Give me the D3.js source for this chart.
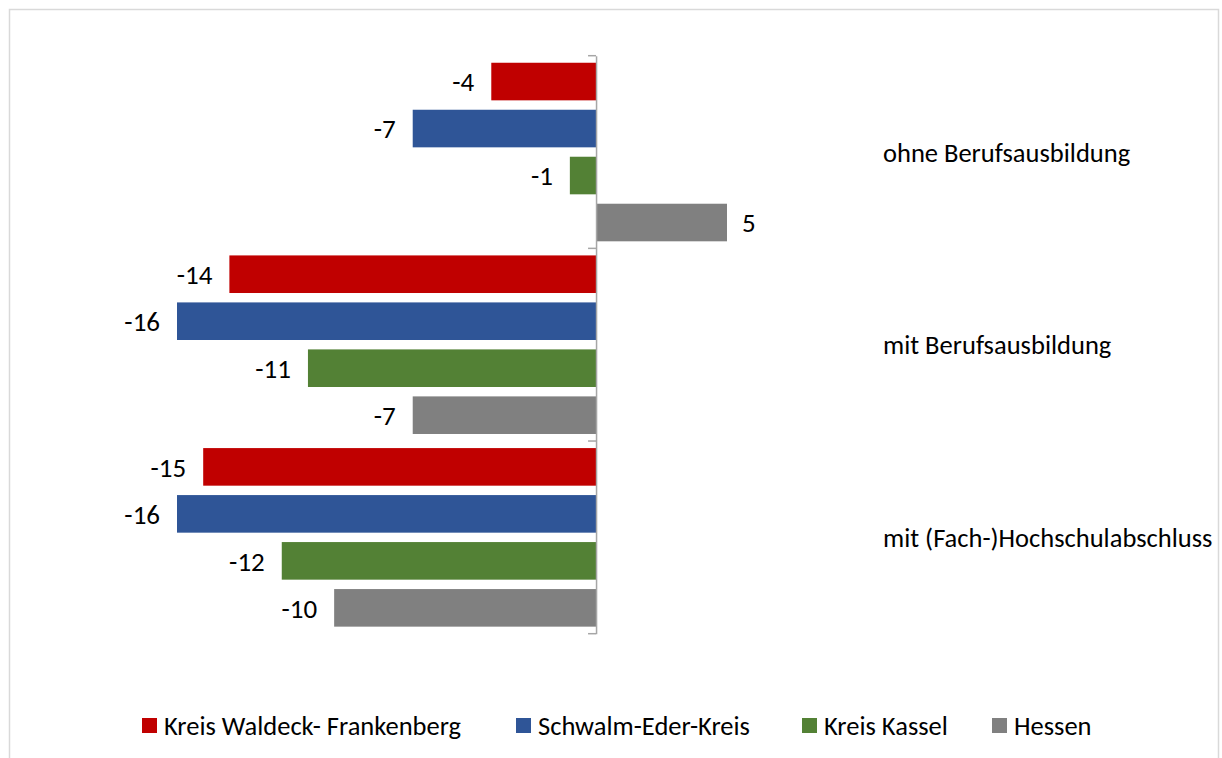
<!DOCTYPE html>
<html>
<head>
<meta charset="utf-8">
<script src="https://cdn.jsdelivr.net/npm/d3@7"></script>
<style>
  body { margin: 0; background: #fff; }
  text { font-family: Carlito, Calibri, Lato, sans-serif; fill: #000; }
</style>
</head>
<body>
<div id="main"></div>
<script>
// data
var categories = ["ohne Berufsausbildung", "mit Berufsausbildung", "mit (Fach-)Hochschulabschluss"];
var seriesNames = ["Kreis Waldeck- Frankenberg", "Schwalm-Eder-Kreis", "Kreis Kassel", "Hessen"];
var waldeck = [-4, -14, -15];
var schwalm = [-7, -16, -16];
var kassel = [-1, -11, -12];
var hessen = [5, -7, -10];
var seriesValues = [waldeck, schwalm, kassel, hessen];
var colors = ["#C00000", "#2F5597", "#538135", "#808080"];

var w = 1222,
	h = 758;

var svg = d3.select("#main")
	.append("svg")
	.attr("width", w)
	.attr("height", h);

// outer border
svg.append("rect")
	.attr("x", 9.5)
	.attr("y", 9.5)
	.attr("width", 1209)
	.attr("height", 760)
	.attr("fill", "#fff")
	.attr("stroke", "#d9d9d9")
	.attr("stroke-width", 1.5);

// scales
var x = d3.scaleLinear()
	.domain([-16, 5])
	.range([177, 727]);

var y0 = d3.scaleBand()
	.domain(categories)
	.range([55.7, 633.7]);

var y1 = d3.scaleBand()
	.domain(seriesNames)
	.range([0, y0.bandwidth()])
	.paddingInner(0.2)
	.paddingOuter(0.15);

// flatten for bars
var rows = [];
categories.forEach(function(c, i) {
	seriesNames.forEach(function(s, j) {
		rows.push({cat: c, series: s, value: seriesValues[j][i], color: colors[j]});
	});
});

var bars = svg.append("g");

bars.selectAll("rect")
	.data(rows)
	.enter()
	.append("rect")
	.attr("x", function(d) { return x(Math.min(0, d.value)); })
	.attr("y", function(d) { return y0(d.cat) + y1(d.series); })
	.attr("width", function(d) { return Math.abs(x(d.value) - x(0)); })
	.attr("height", y1.bandwidth())
	.attr("fill", function(d) { return d.color; });

// value labels
bars.selectAll("text")
	.data(rows)
	.enter()
	.append("text")
	.attr("x", function(d) { return d.value < 0 ? x(d.value) - 17 : x(d.value) + 15; })
	.attr("y", function(d) { return y0(d.cat) + y1(d.series) + y1.bandwidth() / 2; })
	.attr("dy", "0.36em")
	.attr("text-anchor", function(d) { return d.value < 0 ? "end" : "start"; })
	.style("font-size", "27px")
	.text(function(d) { return d.value; });

// category axis at zero
var axis = d3.axisLeft(y0)
	.tickValues([])
	.tickSizeOuter(0);

var axisG = svg.append("g")
	.attr("transform", "translate(" + x(0) + ",0)")
	.call(axis);
axisG.select(".domain").attr("stroke", "#a6a6a6").attr("stroke-width", 1.5);

// boundary ticks between categories
var bounds = categories.map(function(c) { return y0(c); }).concat([y0.range()[1]]);
axisG.selectAll("line.bound")
	.data(bounds)
	.enter()
	.append("line")
	.attr("class", "bound")
	.attr("x1", -8)
	.attr("x2", 0)
	.attr("y1", function(d) { return d; })
	.attr("y2", function(d) { return d; })
	.attr("stroke", "#a6a6a6")
	.attr("stroke-width", 1.5);

// category labels on the right
svg.append("g")
	.selectAll("text")
	.data(categories)
	.enter()
	.append("text")
	.attr("x", 883)
	.attr("y", function(d) { return y0(d) + y0.bandwidth() / 2; })
	.attr("dy", "0.36em")
	.style("font-size", "26.5px")
	.text(function(d) { return d; });

// legend
var legendX = [142, 516, 802, 992];
var legend = svg.append("g")
	.selectAll("g")
	.data(seriesNames)
	.enter()
	.append("g")
	.attr("transform", function(d, i) { return "translate(" + legendX[i] + ",718)"; });

legend.append("rect")
	.attr("width", 15)
	.attr("height", 15)
	.attr("fill", function(d, i) { return colors[i]; });

legend.append("text")
	.attr("x", 22)
	.attr("y", 7.5)
	.attr("dy", "0.36em")
	.style("font-size", "26.5px")
	.text(function(d) { return d; });
</script>
</body>
</html>
